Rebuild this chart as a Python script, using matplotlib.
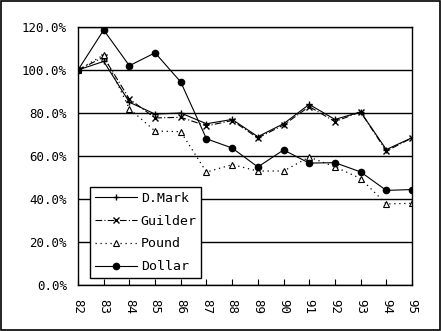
import numpy as np
import matplotlib
matplotlib.use('Agg')
import matplotlib.pyplot as plt
from matplotlib.ticker import FuncFormatter

years = ['82', '83', '84', '85', '86', '87', '88', '89', '90', '91', '92', '93', '94', '95']
dmark = [100, 104, 85, 79.5, 80, 75, 77, 69, 75, 84, 77, 80.5, 63, 68.5]
guilder = [100, 106, 86.5, 77.7, 78, 74, 76.5, 68.4, 74.4, 83, 76, 80.5, 62.3, 68.4]
pound = [100, 107, 82, 71.6, 71.3, 52.5, 56, 53, 53, 59.5, 55, 49.5, 37.7, 38]
dollar = [100, 118.6, 102, 108, 94.4, 68, 63.7, 54.9, 62.8, 56.7, 56.9, 52.6, 44, 44.4]

plt.rcParams['font.family'] = ['DejaVu Sans Mono']
plt.rcParams['font.size'] = 9

fig = plt.figure(figsize=(4.41, 3.31), dpi=100)
fig.patches.append(plt.Rectangle((0.002, 0.003), 0.995, 0.994, transform=fig.transFigure,
                                 fill=False, edgecolor='black', linewidth=1.2))
ax = fig.add_axes([78 / 441, 1 - 285 / 331, (412 - 78) / 441, (285 - 27) / 331])

x = np.arange(len(years))
ax.plot(x, dmark, color='black', linestyle='-', linewidth=0.8, marker='+', markersize=5,
        label='D.Mark')
ax.plot(x, guilder, color='black', linestyle=(0, (6, 2, 1, 2)), linewidth=0.8, marker='x',
        markersize=4.5, label='Guilder')
ax.plot(x, pound, color='black', linestyle=(0, (1, 3)), linewidth=0.9, marker='^', markersize=4.5,
        markerfacecolor='white', markeredgewidth=0.8, label='Pound')
ax.plot(x, dollar, color='black', linestyle='-', linewidth=0.8, marker='o', markersize=4.5,
        label='Dollar')

ax.set_xlim(0, len(years) - 1)
ax.set_ylim(0, 120)
ax.set_yticks(np.arange(0, 121, 20))
ax.yaxis.set_major_formatter(FuncFormatter(lambda v, p: '%.1f%%' % v))
ax.set_xticks(x)
ax.set_xticklabels(years, rotation=-90)
ax.tick_params(axis='x', direction='in', length=4, pad=10)
ax.tick_params(axis='y', direction='out', length=0, pad=8)
ax.grid(axis='y', color='black', linewidth=1)
ax.set_axisbelow(True)
for s in ax.spines.values():
    s.set_linewidth(1)

leg = ax.legend(loc='lower left', bbox_to_anchor=(12 / 334, 7 / 258), fancybox=False,
                edgecolor='black', framealpha=1, handlelength=3.2, handletextpad=0.3,
                borderpad=0.35, borderaxespad=0, labelspacing=0.75, prop={'size': 9.5})
leg.get_frame().set_linewidth(1)

fig.savefig('out.png', dpi=100)
